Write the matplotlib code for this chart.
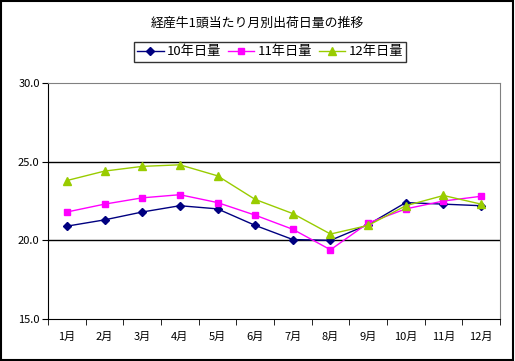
import matplotlib
matplotlib.use("Agg")
import matplotlib.pyplot as plt
from matplotlib.patches import Rectangle
import numpy as np

plt.rcParams["font.family"] = ["Noto Sans CJK JP", "DejaVu Sans"]

months = ["1月", "2月", "3月", "4月", "5月", "6月", "7月", "8月", "9月", "10月", "11月", "12月"]
y10 = [20.9, 21.3, 21.8, 22.2, 22.0, 20.95, 20.05, 20.0, 21.0, 22.4, 22.3, 22.2]
y11 = [21.8, 22.3, 22.7, 22.9, 22.4, 21.6, 20.7, 19.4, 21.1, 22.0, 22.5, 22.8]
y12 = [23.8, 24.4, 24.7, 24.8, 24.1, 22.6, 21.7, 20.4, 20.95, 22.2, 22.85, 22.3]

fig = plt.figure(figsize=(5.15, 3.61), dpi=100)
ax = fig.add_axes([48 / 515, 1 - 319 / 361, 452 / 515, 236 / 361])

x = np.arange(len(months))
ax.plot(x, y10, color="#000080", marker="D", markersize=4, lw=1, label="10年日量")
ax.plot(x, y11, color="#FF00FF", marker="s", markersize=5, lw=1, label="11年日量")
ax.plot(x, y12, color="#99CC00", marker="^", markersize=6, lw=1, label="12年日量")

ax.set_xlim(-0.5, 11.5)
ax.set_ylim(15, 30)
ax.set_yticks([15, 20, 25, 30])
ax.set_yticklabels(["15.0", "20.0", "25.0", "30.0"], fontsize=8)
ax.set_xticks(x)
ax.set_xticklabels(months, fontsize=8)
ax.set_xticks(np.arange(-0.5, 12, 1), minor=True)
ax.tick_params(axis="x", which="major", length=0, pad=9)
ax.tick_params(axis="x", which="minor", length=4, direction="out", color="black")
ax.tick_params(axis="y", length=4, direction="out", pad=2)
for v in [20, 25]:
    ax.axhline(v, color="black", lw=1, zorder=0)

ax.spines["top"].set_color("#808080")
ax.spines["right"].set_color("#808080")
ax.spines["left"].set_color("black")
ax.spines["bottom"].set_color("black")

fig.text(0.5, 1 - 23 / 361, "経産牛1頭当たり月別出荷日量の推移", ha="center", va="center", fontsize=9.3)
leg = ax.legend(loc="center", bbox_to_anchor=(270 / 515, 1 - 52 / 361), bbox_transform=fig.transFigure,
                ncol=3, frameon=True, fancybox=False, fontsize=9.5, handlelength=2.0,
                columnspacing=0.5, handletextpad=0.25, borderpad=0.25, borderaxespad=0)
leg.get_frame().set_edgecolor("black")
leg.get_frame().set_linewidth(1)

fig.patches.append(Rectangle((0.002, 0.003), 0.994, 0.994, transform=fig.transFigure,
                             fill=False, edgecolor="black", lw=1.5))

fig.savefig("out.png", dpi=100)
